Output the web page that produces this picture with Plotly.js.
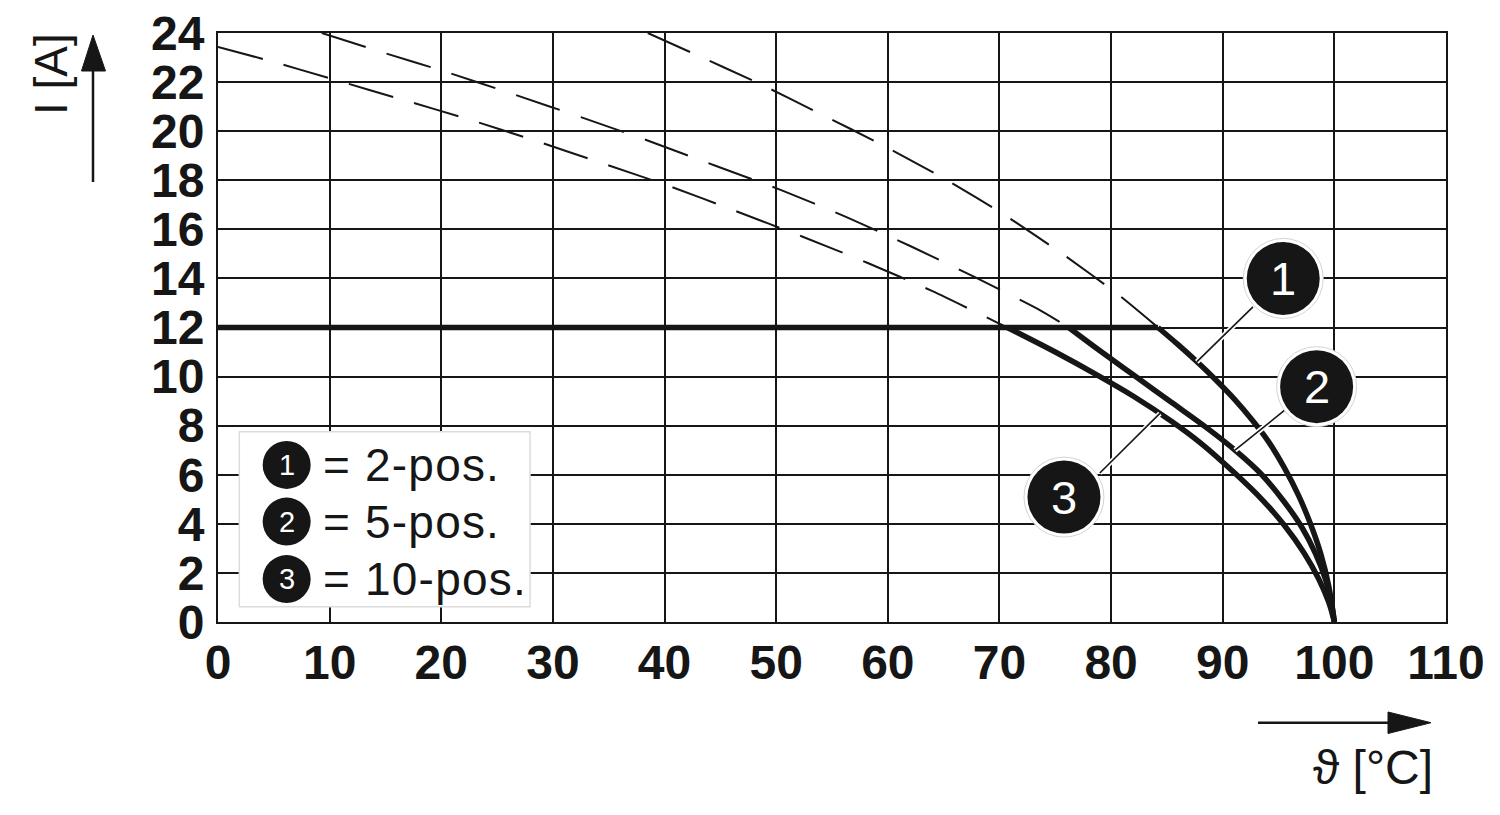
<!DOCTYPE html>
<html>
<head>
<meta charset="utf-8">
<script src="https://cdn.plot.ly/plotly-3.0.1.min.js"></script>
<style>html,body{margin:0;padding:0;background:#fff;}#chart{width:1500px;height:815px;}</style>
</head>
<body>
<div id="chart"></div>
<script>
// ---- data ----
const xTicks = [0,10,20,30,40,50,60,70,80,90,100,110];
const yTicks = [0,2,4,6,8,10,12,14,16,18,20,22,24];

// dashed (extrapolated) parts
const dash1X = [38.5, 42.4, 48.2, 53.9, 59.45, 65.07, 70.4, 75.7, 80.75, 84.2];
const dash1Y = [24.0, 23.2, 22.0, 20.72, 19.45, 18.06, 16.6, 14.98, 13.3, 12.0];
const dash2X = [9.3, 14.6, 20.6, 26.7, 32.7, 38.6, 44.5, 50.45, 56.3, 62.1, 67.8, 73.5, 76.2];
const dash2Y = [24.0, 23.23, 22.39, 21.47, 20.54, 19.6, 18.6, 17.6, 16.5, 15.3, 14.05, 12.74, 12.0];
const dash3X = [0, 4.2, 10.27, 16.4, 22.4, 28.5, 34.5, 40.5, 46.4, 52.26, 58.15, 64.0, 69.8, 70.7];
const dash3Y = [23.43, 22.92, 22.12, 21.3, 20.49, 19.6, 18.68, 17.75, 16.74, 15.72, 14.64, 13.48, 12.2, 12.0];

// 12 A limit line
const limitX = [0, 84.2];
const limitY = [12, 12];

// solid derating curves
const curve1X = [84.2, 86.0, 87.7, 89.3, 91.0, 92.6, 94.1, 95.5, 96.8, 97.9, 98.8, 99.5, 100];
const curve1Y = [12.0, 11.3, 10.6, 9.9, 9.1, 8.25, 7.35, 6.3, 5.15, 3.95, 2.75, 1.45, 0];
const curve2X = [76.2, 79.0, 82.2, 85.4, 88.6, 91.1, 93.5, 95.5, 97.1, 98.3, 99.2, 99.7, 100];
const curve2Y = [12.0, 11.05, 10.0, 8.95, 7.9, 7.0, 6.0, 4.9, 3.85, 2.8, 1.75, 0.85, 0];
const curve3X = [70.7, 75.0, 79.0, 82.0, 85.5, 88.0, 91.0, 93.5, 95.5, 97.3, 98.6, 99.5, 100];
const curve3Y = [12.0, 11.0, 10.0, 9.2, 8.15, 7.3, 6.1, 5.0, 3.95, 2.8, 1.75, 0.8, 0];

// callouts
const calloutLabels = ["1", "2", "3"];
const calloutX = [95.42, 98.41, 75.78];
const calloutY = [14.0, 9.59, 5.09];
const leaderX0 = [92.71, 95.58, 78.99];
const leaderY0 = [12.84, 8.64, 6.07];
const leaderX1 = [87.67, 91.1, 84.37];
const leaderY1 = [10.6, 7.0, 8.5];

// legend
const legendNums = ["1", "2", "3"];
const legendTexts = ["= 2-pos.", "= 5-pos.", "= 10-pos."];
const legendMarkX = 6.15;
const legendTextX = 9.2;
const legendY = [6.40, 4.09, 1.75];
const legendBox = {x0: 1.91, x1: 27.95, y0: 0.62, y1: 7.75};

const yTitle = "I [A]";
const xTitle = "\u03D1 [\u00B0C]";

// ---- layout helpers ----
const ML = 218, MR = 54, MT = 33, MB = 193, W = 1500, H = 815;
const PW = W - ML - MR, PH = H - MT - MB;
const px = v => (v - ML) / PW;
const py = v => (H - MB - v) / PH;
const INK = '#161616';
const FONT = 'Liberation Sans, Arial, Helvetica, sans-serif';
const spaced = s => `<span style="letter-spacing:1.2px">${s}</span>`;

const traces = [];
const dashStyle = {color: INK, width: 2, dash: '46px,22px', shape: 'spline', smoothing: 0.6};
[[dash1X, dash1Y], [dash2X, dash2Y], [dash3X, dash3Y]].forEach(([x, y]) => {
  traces.push({x, y, type: 'scatter', mode: 'lines', line: dashStyle, hoverinfo: 'skip', showlegend: false});
});
traces.push({x: limitX, y: limitY, type: 'scatter', mode: 'lines', line: {color: INK, width: 5.5}, hoverinfo: 'skip', showlegend: false});
[[curve1X, curve1Y], [curve2X, curve2Y], [curve3X, curve3Y]].forEach(([x, y]) => {
  traces.push({x, y, type: 'scatter', mode: 'lines', line: {color: INK, width: 5.5, shape: 'spline', smoothing: 1}, hoverinfo: 'skip', showlegend: false});
});

const shapes = [];
// legend box
shapes.push({type: 'rect', xref: 'x', yref: 'y', x0: legendBox.x0, x1: legendBox.x1, y0: legendBox.y0, y1: legendBox.y1,
  line: {color: '#dcdcdc', width: 1.5}, fillcolor: '#ffffff', layer: 'above'});
// legend circles
legendY.forEach(y => {
  shapes.push({type: 'circle', xref: 'x', yref: 'y', xsizemode: 'pixel', ysizemode: 'pixel',
    xanchor: legendMarkX, yanchor: y, x0: -24, x1: 24, y0: -24, y1: 24,
    fillcolor: INK, line: {width: 0}, layer: 'above'});
});
// leaders: white halo then black core
for (let i = 0; i < calloutX.length; i++) {
  shapes.push({type: 'line', xref: 'x', yref: 'y', x0: leaderX0[i], y0: leaderY0[i], x1: leaderX1[i], y1: leaderY1[i],
    line: {color: '#ffffff', width: 5}, layer: 'above'});
  shapes.push({type: 'line', xref: 'x', yref: 'y', x0: leaderX0[i], y0: leaderY0[i], x1: leaderX1[i], y1: leaderY1[i],
    line: {color: INK, width: 1.6}, layer: 'above'});
}
// callout circles
for (let i = 0; i < calloutX.length; i++) {
  shapes.push({type: 'circle', xref: 'x', yref: 'y', xsizemode: 'pixel', ysizemode: 'pixel',
    xanchor: calloutX[i], yanchor: calloutY[i], x0: -40, x1: 40, y0: -40, y1: 40,
    fillcolor: '#ffffff', line: {color: '#d4d4d4', width: 1}, layer: 'above'});
  shapes.push({type: 'circle', xref: 'x', yref: 'y', xsizemode: 'pixel', ysizemode: 'pixel',
    xanchor: calloutX[i], yanchor: calloutY[i], x0: -36.5, x1: 36.5, y0: -36.5, y1: 36.5,
    fillcolor: INK, line: {width: 0}, layer: 'above'});
}
// axis arrows (outside plot, paper coords)
shapes.push({type: 'line', xref: 'paper', yref: 'paper', x0: px(93), x1: px(93), y0: py(182), y1: py(66),
  line: {color: INK, width: 2.5}});
shapes.push({type: 'path', xref: 'paper', yref: 'paper',
  path: `M ${px(93)} ${py(35)} L ${px(81.5)} ${py(71)} L ${px(105.5)} ${py(71)} Z`,
  fillcolor: INK, line: {color: INK, width: 1}});
shapes.push({type: 'line', xref: 'paper', yref: 'paper', x0: px(1258), x1: px(1392), y0: py(722.7), y1: py(722.7),
  line: {color: INK, width: 2.5}});
shapes.push({type: 'path', xref: 'paper', yref: 'paper',
  path: `M ${px(1431)} ${py(722.7)} L ${px(1388)} ${py(712)} L ${px(1388)} ${py(733.5)} Z`,
  fillcolor: INK, line: {color: INK, width: 1}});

const annotations = [];
for (let i = 0; i < calloutX.length; i++) {
  annotations.push({x: calloutX[i], y: calloutY[i], xref: 'x', yref: 'y', text: calloutLabels[i], showarrow: false,
    xanchor: 'center', yanchor: 'middle', font: {family: FONT, size: 47, color: '#ffffff'}});
}
for (let i = 0; i < legendY.length; i++) {
  annotations.push({x: legendMarkX, y: legendY[i], xref: 'x', yref: 'y', text: legendNums[i], showarrow: false,
    xanchor: 'center', yanchor: 'middle', font: {family: FONT, size: 29, color: '#ffffff'}});
  annotations.push({x: legendTextX, y: legendY[i], xref: 'x', yref: 'y', text: spaced(legendTexts[i]), showarrow: false,
    xanchor: 'left', yanchor: 'middle', font: {family: FONT, size: 46, color: INK}});
}
annotations.push({x: px(51), y: py(74), xref: 'paper', yref: 'paper', text: yTitle, textangle: -90, showarrow: false,
  xanchor: 'center', yanchor: 'middle', font: {family: FONT, size: 46, color: INK}});
annotations.push({x: px(1373), y: py(767), xref: 'paper', yref: 'paper', text: xTitle, showarrow: false,
  xanchor: 'center', yanchor: 'middle', font: {family: FONT, size: 48, color: INK}});

const axisCommon = {
  showgrid: true, gridcolor: INK, gridwidth: 2, zeroline: false,
  showline: true, linecolor: INK, linewidth: 2, mirror: true,
  ticks: '', tickfont: {family: FONT, size: 48, color: INK, weight: 'bold'}, fixedrange: true
};
const layout = {
  width: W, height: H, margin: {l: ML, r: MR, t: MT, b: MB, pad: 0},
  paper_bgcolor: '#ffffff', plot_bgcolor: '#ffffff', showlegend: false,
  xaxis: Object.assign({}, axisCommon, {range: [0, 110], tickvals: xTicks, ticktext: xTicks.map(String), ticklabelstandoff: -3}),
  yaxis: Object.assign({}, axisCommon, {range: [0, 24], tickvals: yTicks, ticktext: yTicks.map(String), ticklabelstandoff: 2}),
  shapes, annotations
};
Plotly.newPlot('chart', traces, layout, {staticPlot: true, displayModeBar: false});
</script>
</body>
</html>
